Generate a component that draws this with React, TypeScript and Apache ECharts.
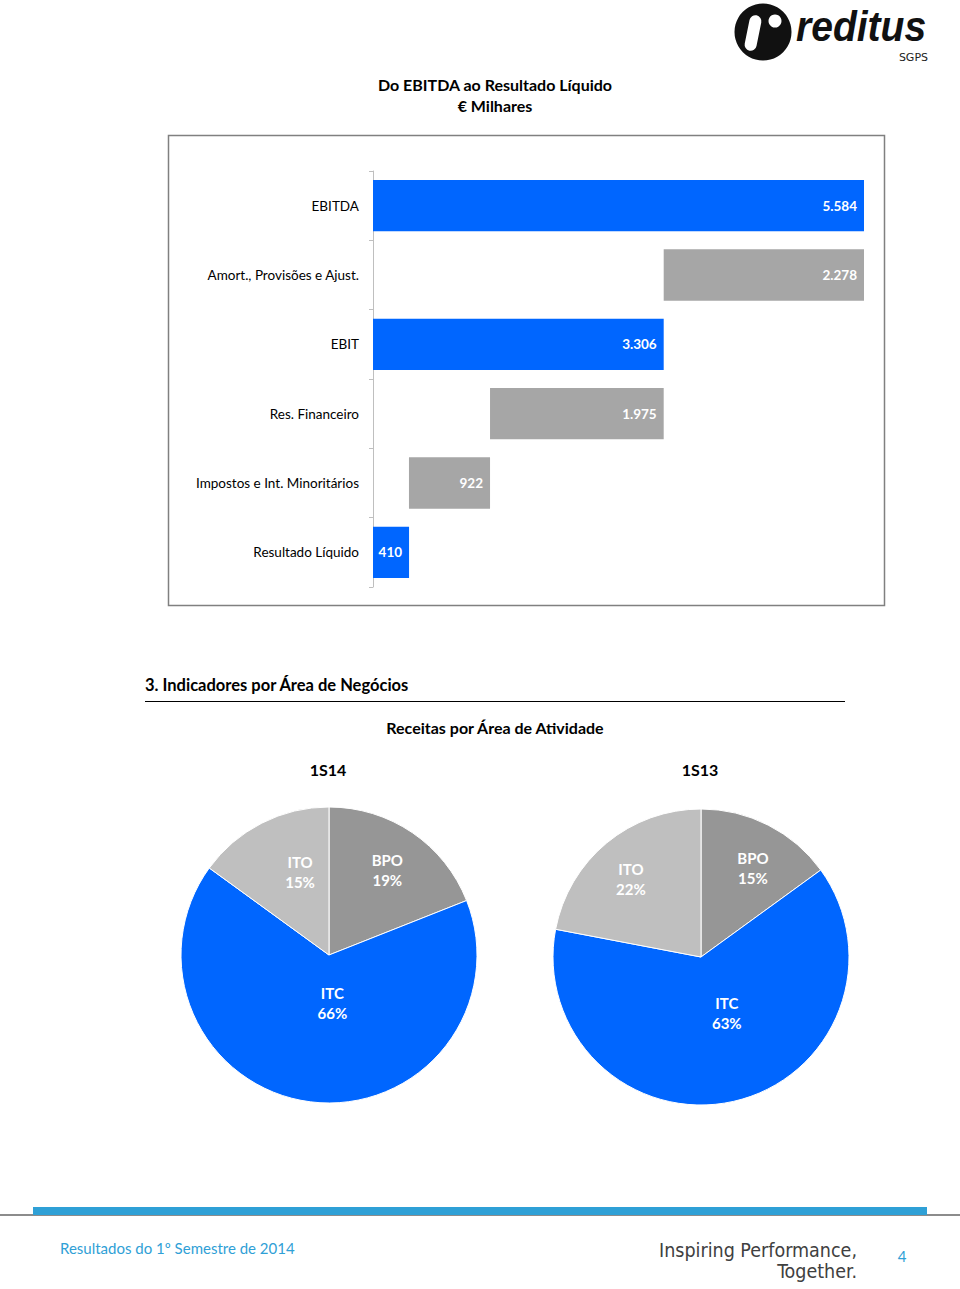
import React, { useEffect, useRef } from "react";
import * as echarts from "echarts";

// ---- Data ----
const categories = [
  "EBITDA",
  "Amort., Provisões e Ajust.",
  "EBIT",
  "Res. Financeiro",
  "Impostos e Int. Minoritários",
  "Resultado Líquido",
];
const barValues = [5584, 2278, 3306, 1975, 922, 410];
const barKinds = ["total", "minus", "total", "minus", "minus", "total"];

const pieSegments = ["BPO", "ITC", "ITO"];
const pie1S14 = [19, 66, 15];
const pie1S13 = [15, 63, 22];
const pieTitles = ["1S14", "1S13"];

const BLUE = "#0066FF";
const BAR_GREY = "#A6A6A6";
const PIE_COLORS = ["#969696", "#0066FF", "#BFBFBF"];
const FONT = "Lato, 'Open Sans', sans-serif";

function fmt(v: number) {
  return String(v).replace(/\B(?=(\d{3})+(?!\d))/g, ".");
}

export default function App() {
  const ref = useRef<HTMLDivElement>(null);
  useEffect(() => {
    if (!ref.current) return;
    const chart = echarts.init(ref.current, null, { renderer: "svg" });

    // waterfall bases
    const base: number[] = [];
    let running = 0;
    barValues.forEach((v, i) => {
      if (barKinds[i] === "total") {
        base.push(0);
        running = v;
      } else {
        running = running - v;
        base.push(running);
      }
    });

    const pieLabelOffsets1 = [
      [15, -21],
      [13, -28],
      [6, -14],
    ];
    const pieLabelOffsets2 = [
      [17, -20],
      [9, -19],
      [-21, -19],
    ];

    const pieSeries = (data: number[], center: number[], offsets: number[][]) => ({
      type: "pie",
      center,
      radius: 148,
      startAngle: 90,
      clockwise: true,
      silent: true,
      itemStyle: { borderColor: "#ffffff", borderWidth: 1 },
      label: {
        show: true,
        position: "inside",
        formatter: (p: any) => `${p.name}\n${p.value}%`,
        color: "#ffffff",
        fontFamily: FONT,
        fontWeight: "bold",
        fontSize: 15,
        lineHeight: 20,
      },
      labelLine: { show: false },
      labelLayout: (p: any) => ({ dx: offsets[p.dataIndex][0], dy: offsets[p.dataIndex][1] }),
      data: pieSegments.map((n, i) => ({
        name: n,
        value: data[i],
        itemStyle: { color: PIE_COLORS[i] },
      })),
    });

    const txt = (text: string, x: number, y: number, font: string, align = "center", fill = "#000000") => ({
      type: "text",
      style: { text, x, y, textAlign: align, textVerticalAlign: "middle", font, fill },
    });

    chart.setOption({
      animation: false,
      backgroundColor: "#ffffff",
      grid: { left: 373, top: 171, width: 491, height: 416 },
      xAxis: { type: "value", min: 0, max: 5584, show: false },
      yAxis: {
        type: "category",
        inverse: true,
        data: categories,
        axisLine: { show: true, lineStyle: { color: "#BFBFBF", width: 1 } },
        axisTick: { show: true, length: 4, lineStyle: { color: "#BFBFBF" } },
        axisLabel: { color: "#000000", fontFamily: FONT, fontSize: 13.5, margin: 14 },
      },
      series: [
        {
          type: "bar",
          stack: "w",
          silent: true,
          barCategoryGap: "26%",
          itemStyle: { color: "rgba(0,0,0,0)" },
          data: base,
        },
        {
          type: "bar",
          stack: "w",
          silent: true,
          barCategoryGap: "26%",
          label: {
            show: true,
            position: "insideRight",
            distance: 7,
            color: "#ffffff",
            fontFamily: FONT,
            fontWeight: "bold",
            fontSize: 13.5,
            formatter: (p: any) => fmt(p.value),
          },
          data: barValues.map((v, i) => ({
            value: v,
            itemStyle: { color: barKinds[i] === "total" ? BLUE : BAR_GREY },
          })),
        },
        pieSeries(pie1S14, [329, 955], pieLabelOffsets1),
        pieSeries(pie1S13, [701, 957], pieLabelOffsets2),
      ],
      graphic: [
        // chart frame
        {
          type: "rect",
          shape: { x: 168.5, y: 135.5, width: 716, height: 470 },
          style: { fill: "none", stroke: "#808080", lineWidth: 1.5 },
          z: 0,
        },
        txt("Do EBITDA ao Resultado Líquido", 495, 84, `bold 16px ${FONT}`),
        txt("€ Milhares", 495, 105, `bold 16px ${FONT}`),
        txt("3. Indicadores por Área de Negócios", 145, 685, `bold 16.5px ${FONT}`, "left"),
        {
          type: "line",
          shape: { x1: 145, y1: 701.5, x2: 845, y2: 701.5 },
          style: { stroke: "#000000", lineWidth: 1.2 },
        },
        txt("Receitas por Área de Atividade", 495, 727, `bold 16px ${FONT}`),
        txt(pieTitles[0], 328, 769, `bold 16px ${FONT}`),
        txt(pieTitles[1], 700, 769, `bold 16px ${FONT}`),
        // logo
        {
          type: "circle",
          shape: { cx: 763, cy: 32, r: 28.5 },
          style: { fill: "#111111" },
        },
        {
          type: "rect",
          x: 753,
          y: 33,
          rotation: -0.2,
          shape: { x: -6, y: -18, width: 12, height: 36, r: 6 },
          style: { fill: "#ffffff" },
        },
        {
          type: "circle",
          shape: { cx: 775, cy: 21, r: 6.5 },
          style: { fill: "#ffffff" },
        },
        {
          type: "text",
          x: 796,
          y: 27,
          scaleX: 0.93,
          style: {
            text: "reditus",
            x: 0,
            y: 0,
            textAlign: "left",
            textVerticalAlign: "middle",
            font: `italic bold 42px 'Liberation Sans', Arial, sans-serif`,
            fill: "#111111",
          },
        },
        txt("SGPS", 928, 57, `11px 'DejaVu Sans', sans-serif`, "right", "#222222"),
        // footer
        {
          type: "rect",
          shape: { x: 0, y: 1214, width: 960, height: 2 },
          style: { fill: "#8c8c8c" },
        },
        {
          type: "rect",
          shape: { x: 33, y: 1207, width: 894, height: 8 },
          style: { fill: "#2FA0D6" },
        },
        txt("Resultados do 1º Semestre de 2014", 60, 1248, `15px ${FONT}`, "left", "#2FA0D6"),
        txt(
          "Inspiring Performance,",
          857,
          1250,
          `19.5px 'Liberation Sans Narrow', 'DejaVu Sans Condensed', sans-serif`,
          "right",
          "#404040"
        ),
        txt(
          "Together.",
          857,
          1271,
          `19.5px 'Liberation Sans Narrow', 'DejaVu Sans Condensed', sans-serif`,
          "right",
          "#404040"
        ),
        txt("4", 902, 1256, `15px ${FONT}`, "center", "#2FA0D6"),
      ],
    });
    return () => chart.dispose();
  }, []);
  return (
    <div
      ref={ref}
      style={{ position: "absolute", left: 0, top: 0, width: 960, height: 1289 }}
    />
  );
}
